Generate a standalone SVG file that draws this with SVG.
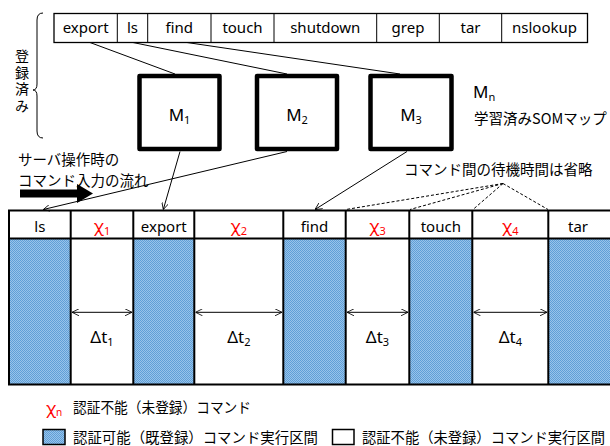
<svg xmlns="http://www.w3.org/2000/svg" width="610" height="446" viewBox="0 0 610 446">
<defs>
<style>
.t{font-family:"Noto Sans","Noto Sans CJK JP",sans-serif;font-size:15px;fill:#000}
.m{font-family:"Noto Sans","Noto Sans CJK JP",sans-serif;font-size:17px;fill:#000}
.j{font-family:"Noto Sans CJK JP","Noto Sans",sans-serif;font-size:14.5px;fill:#000}
.v{font-family:"Noto Sans CJK JP","Noto Sans",sans-serif;font-size:14px;fill:#000;writing-mode:vertical-rl;letter-spacing:2.5px}
.c{text-anchor:middle}
.r{fill:#ff0000}
.cell{fill:#fff;stroke:#000;stroke-width:1.3}
.som{fill:#fff;stroke:#000;stroke-width:4.5;stroke-linejoin:round}
.ln{stroke:#000;stroke-width:1;fill:none}
.dash{stroke:#000;stroke-width:1;fill:none;stroke-dasharray:3,2}
.tb{stroke:#000;stroke-width:2;fill:none}
.blue{fill:url(#dots)}
</style>
<pattern id="dots" width="2" height="2" patternUnits="userSpaceOnUse">
<rect width="2" height="2" fill="#98c3ea"/>
<rect width="1" height="1" fill="#5f9fd7"/>
<rect x="1" y="1" width="1" height="1" fill="#5f9fd7"/>
</pattern>
<marker id="ah" viewBox="0 0 10 10" refX="10" refY="5" markerWidth="7" markerHeight="7" orient="auto-start-reverse" markerUnits="userSpaceOnUse">
<path d="M0,0 L10,5 L0,10" fill="none" stroke="#000" stroke-width="1.2"/>
</marker>
</defs>

<!-- registered commands row -->
<g id="registered">
<rect class="cell" x="54" y="13.5" width="533.5" height="29"/>
<path class="ln" d="M117.3,13.5V42.5M147.7,13.5V42.5M211,13.5V42.5M274,13.5V42.5M376.7,13.5V42.5M439.3,13.5V42.5M501.7,13.5V42.5"/>
<text class="t c" x="85.7" y="33">export</text>
<text class="t c" x="132.5" y="33">ls</text>
<text class="t c" x="179.3" y="33">find</text>
<text class="t c" x="242.5" y="33">touch</text>
<text class="t c" x="325.3" y="33">shutdown</text>
<text class="t c" x="408" y="33">grep</text>
<text class="t c" x="470.5" y="33">tar</text>
<text class="t c" x="544.5" y="33">nslookup</text>
</g>

<g id="brace">
<path class="ln" d="M43,13 Q37,13 37,20 L37,84 Q37,90 33,90 Q37,90 37,96 L37,131 Q37,138 43,138"/>
<text class="v" x="22" y="49">登録済み</text>
</g>

<g id="M1">
<rect class="som" x="139.5" y="76" width="80" height="73"/>
<text class="m c" x="179.5" y="121">M<tspan font-size="11" dy="3">1</tspan></text>
</g>
<g id="M2">
<rect class="som" x="257" y="76" width="80" height="73"/>
<text class="m c" x="297" y="121">M<tspan font-size="11" dy="3">2</tspan></text>
</g>
<g id="M3">
<rect class="som" x="370.5" y="76" width="81" height="73"/>
<text class="m c" x="411" y="121">M<tspan font-size="11" dy="3">3</tspan></text>
</g>

<g id="som-label">
<text class="m" x="473" y="98">M<tspan font-size="11" dy="3">n</tspan></text>
<text class="j" x="474" y="124">学習済みSOMマップ</text>
</g>

<g id="flow-label">
<text class="j" x="18" y="164.5">サーバ操作時の</text>
<text class="j" x="18" y="186">コマンド入力の流れ</text>
<path d="M20,189.5 H77 V184 L93,193.5 L77,203 V197.5 H20 Z" fill="#000"/>
</g>

<g id="omit-label">
<text class="j" x="404" y="175">コマンド間の待機時間は省略</text>
</g>

<!-- session table -->
<g id="table">
<rect class="blue" x="9" y="238.5" width="61.7" height="146"/>
<rect class="blue" x="133.3" y="238.5" width="61" height="146"/>
<rect class="blue" x="283.3" y="238.5" width="62.4" height="146"/>
<rect class="blue" x="409.3" y="238.5" width="63" height="146"/>
<rect class="blue" x="548.3" y="238.5" width="61.7" height="146"/>
<path class="tb" d="M610,210.5 H9 V384.5 H610 M9,238.5 H610 M70.7,210.5 V384.5 M133.3,210.5 V384.5 M194.3,210.5 V384.5 M283.3,210.5 V384.5 M345.7,210.5 V384.5 M409.3,210.5 V384.5 M472.3,210.5 V384.5 M548.3,210.5 V384.5"/>
<text class="t c" x="39.9" y="232">ls</text>
<text class="m c r" x="102" y="232">χ<tspan font-size="11" dy="3">1</tspan></text>
<text class="t c" x="163.8" y="232">export</text>
<text class="m c r" x="238.8" y="232">χ<tspan font-size="11" dy="3">2</tspan></text>
<text class="t c" x="314.5" y="232">find</text>
<text class="m c r" x="377.5" y="232">χ<tspan font-size="11" dy="3">3</tspan></text>
<text class="t c" x="440.8" y="232">touch</text>
<text class="m c r" x="510.3" y="232">χ<tspan font-size="11" dy="3">4</tspan></text>
<text class="t c" x="578" y="232">tar</text>
<text class="m c" x="102" y="343">Δt<tspan font-size="11" dy="3">1</tspan></text>
<text class="m c" x="238.8" y="343">Δt<tspan font-size="11" dy="3">2</tspan></text>
<text class="m c" x="377.5" y="343">Δt<tspan font-size="11" dy="3">3</tspan></text>
<text class="m c" x="510.3" y="343">Δt<tspan font-size="11" dy="3">4</tspan></text>
</g>

<!-- connectors -->
<g id="connectors">
<path class="ln" d="M90,42.5 L175,74"/>
<path class="ln" d="M133,42.5 L287,74"/>
<path class="ln" d="M187,42.5 L400,74"/>
<path class="ln" d="M180,151.5 L163.3,209.5" marker-end="url(#ah)"/>
<path class="ln" d="M287,151.5 L43.3,209.5" marker-end="url(#ah)"/>
<path class="ln" d="M407,151.5 L315,209.5" marker-end="url(#ah)"/>
<path class="dash" d="M503,183.5 L346,209.5 M503,183.5 L410,209.5 M503,183.5 L473,209.5 M503,183.5 L548,209.5"/>
<path class="ln" d="M72,312.3 H132" marker-start="url(#ah)" marker-end="url(#ah)"/>
<path class="ln" d="M195.5,312.3 H282" marker-start="url(#ah)" marker-end="url(#ah)"/>
<path class="ln" d="M347,312.3 H408" marker-start="url(#ah)" marker-end="url(#ah)"/>
<path class="ln" d="M473.5,312.3 H547" marker-start="url(#ah)" marker-end="url(#ah)"/>
</g>

<!-- legend -->
<g id="legend">
<text class="m r" x="46" y="414">χ<tspan font-size="10" dy="2">n</tspan></text>
<text class="j" x="73" y="413" textLength="178" lengthAdjust="spacingAndGlyphs">認証不能（未登録）コマンド</text>
<rect class="blue" x="43" y="429.5" width="22" height="15" stroke="#000" stroke-width="1.5"/>
<text class="j" x="73" y="443" textLength="245" lengthAdjust="spacingAndGlyphs">認証可能（既登録）コマンド実行区間</text>
<rect x="332.5" y="429.5" width="21.5" height="15" fill="#fff" stroke="#000" stroke-width="1.5"/>
<text class="j" x="362" y="443" textLength="243" lengthAdjust="spacingAndGlyphs">認証不能（未登録）コマンド実行区間</text>
</g>
</svg>
